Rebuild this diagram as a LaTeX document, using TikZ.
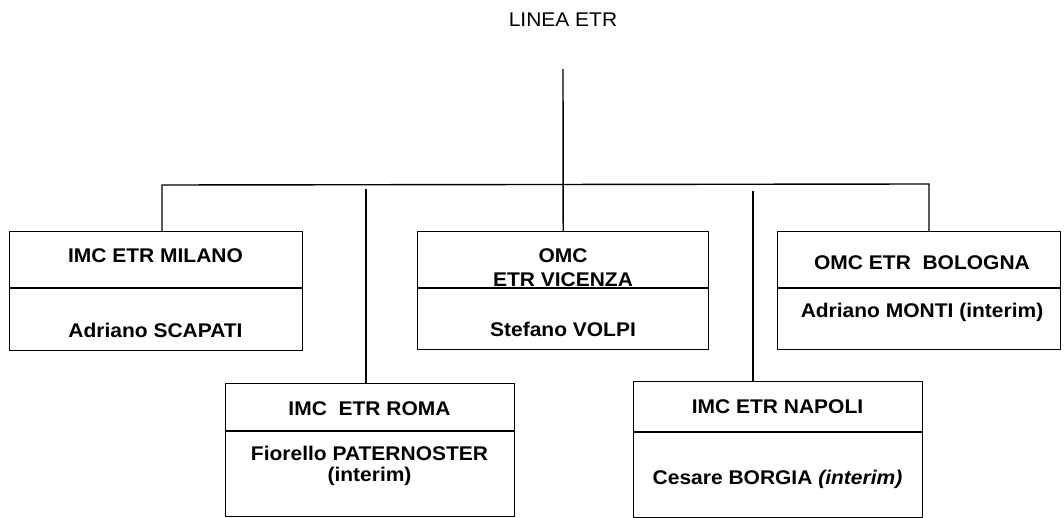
\documentclass[tikz,border=0pt]{standalone}
\usepackage{fontspec}
\setmainfont{Liberation Sans}
\newfontfamily\orgfont[FakeStretch=1.06]{Liberation Sans}
\usetikzlibrary{positioning, calc}

\tikzset{
  unitbox/.style={draw, line width=1.4pt, inner sep=0pt, anchor=north west},
  unitlabel/.style={font=\orgfont\bfseries\fontsize{19.8}{23}\selectfont, anchor=base, inner sep=0pt},
  orgline/.style={line width=1.4pt}
}

\begin{document}
\begin{tikzpicture}[x=1pt, y=-1pt]
  \useasboundingbox (0,0) rectangle (1064,518);

  % Head of the line
  \node[unitlabel, font=\orgfont\fontsize{19.8}{23}\selectfont] (linea) at (563,27) {LINEA ETR};
  \coordinate (trunk) at (563,69);

  % Boxes of the units
  \node[unitbox, minimum width=293pt, minimum height=119pt] (milano)  at (9,231)   {};
  \node[unitbox, minimum width=291pt, minimum height=118pt] (vicenza) at (417,231) {};
  \node[unitbox, minimum width=283pt, minimum height=118pt] (bologna) at (777,231) {};
  \node[unitbox, minimum width=289pt, minimum height=133pt] (roma)    at (225,383) {};
  \node[unitbox, minimum width=289pt, minimum height=136pt] (napoli)  at (633,381) {};

  % Dividers between unit and head
  \draw[orgline] (milano.west |- 0,288)  -- (milano.east |- 0,288);
  \draw[orgline] (vicenza.west |- 0,288) -- (vicenza.east |- 0,288);
  \draw[orgline] (bologna.west |- 0,288) -- (bologna.east |- 0,288);
  \draw[orgline] (roma.west |- 0,431)    -- (roma.east |- 0,431);
  \draw[orgline] (napoli.west |- 0,432)  -- (napoli.east |- 0,432);

  % Texts
  \node[unitlabel] (milanoT)  at (155.5,262) {IMC ETR MILANO};
  \node[unitlabel] (milanoN)  at (155.5,337) {Adriano SCAPATI};
  \node[unitlabel] (vicenzaT) at (563,262)   {OMC};
  \node[unitlabel] (vicenzaU) at (563,287)   {ETR VICENZA};
  \node[unitlabel] (vicenzaN) at (563,336)   {Stefano VOLPI};
  \node[unitlabel] (bolognaT) at (922,270)   {OMC ETR\ \ BOLOGNA};
  \node[unitlabel] (bolognaN) at (922,317)   {Adriano MONTI (interim)};
  \node[unitlabel] (romaT)    at (369.5,415) {IMC\ \ ETR ROMA};
  \node[unitlabel] (romaN)    at (369.5,460) {Fiorello PATERNOSTER};
  \node[unitlabel] (romaI)    at (369.5,481) {(interim)};
  \node[unitlabel] (napoliT)  at (777.5,413) {IMC ETR NAPOLI};
  \node[unitlabel] (napoliN)  at (777.5,484) {Cesare BORGIA \textit{(interim)}};

  % Connectors
  \coordinate (barL) at (162,185);
  \coordinate (barR) at (929,184);
  \coordinate (romaTop) at (366,189);
  \coordinate (napoliTop) at (753,191);
  \draw[orgline] (trunk) -- (vicenza.north);
  \draw[orgline] (milano.north -| barL) -- (barL) -- (barR) -- (bologna.north -| barR);
  \draw[orgline] (romaTop) -- (roma.north -| romaTop);
  \draw[orgline] (napoliTop) -- (napoli.north -| napoliTop);
\end{tikzpicture}
\end{document}
